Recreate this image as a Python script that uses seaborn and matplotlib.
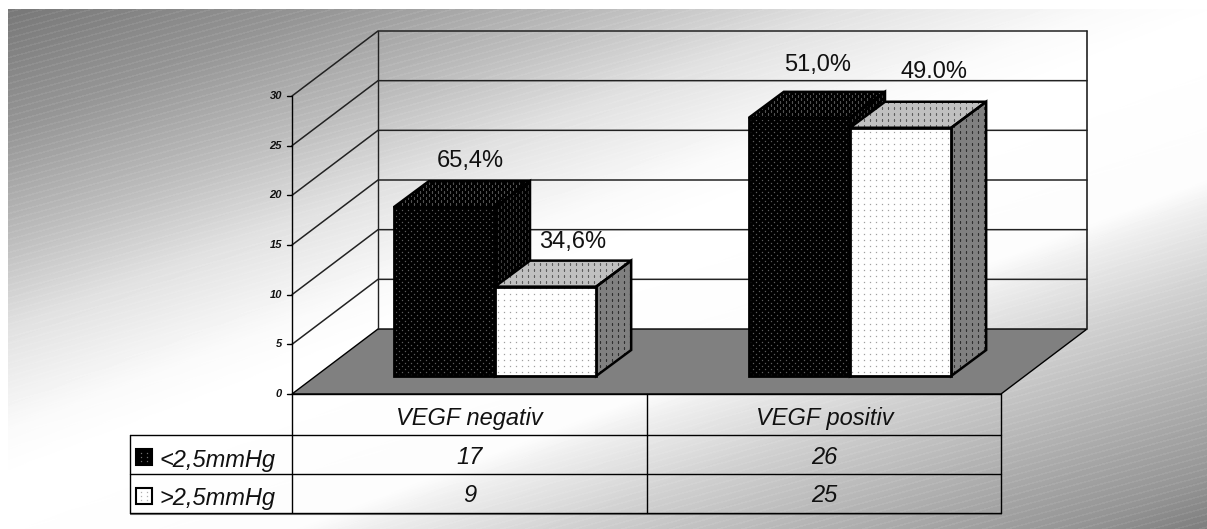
import numpy as np
import pandas as pd
import matplotlib
matplotlib.use("Agg")
import matplotlib.pyplot as plt
from matplotlib.patches import Polygon, Rectangle
import seaborn as sns

groups = ["VEGF negativ", "VEGF positiv"]
series = ["<2,5mmHg", ">2,5mmHg"]
low_values = [17, 26]
high_values = [9, 25]
low_pct = ["65,4%", "51,0%"]
high_pct = ["34,6%", "49.0%"]
y_ticks = [0, 5, 10, 15, 20, 25, 30]

W, H = 1207, 529
BASE_X = 495
BASE_Y = 376
PX_PER_CAT = 355
PX_PER_VAL = 9.93
DEPTH_X = 35 / PX_PER_CAT
DEPTH_Y = 26 / PX_PER_VAL

sns.set_style("white")
plt.rcParams['font.family'] = ['Liberation Sans', 'DejaVu Sans']

fig = plt.figure(figsize=(W / 100, H / 100), dpi=100, facecolor='white')

# pixel axes for the backdrop, walls and table
bg = fig.add_axes([0, 0, 1, 1])
bg.set_xlim(0, W)
bg.set_ylim(H, 0)
bg.axis('off')

yy, xx = np.mgrid[9:H, 8:W]
t = 0.358 * xx + 0.934 * yy
gray = np.interp(t, [11, 126, 224, 310, 404, 451, 600, 624, 700, 750, 808, 879, 920],
                 [120, 150, 187, 225, 250, 255, 252, 238, 207, 190, 170, 148, 128])
stripes = ((yy + 0.27 * xx) % 6.5) < 1.6
gray = gray + stripes * (255 - gray) * 0.07
bg.imshow(gray, cmap='gray', vmin=0, vmax=255, extent=(8, W, H, 9), aspect='auto',
          interpolation='nearest', zorder=0)
bg.set_xlim(0, W)
bg.set_ylim(H, 0)


def wall_y(v):
    return 394 - 298 / 30 * v


# floor
bg.add_patch(Polygon([(292, 394), (378, 329), (1087, 329), (1001, 394)], facecolor='#808080',
                     edgecolor='black', lw=1, zorder=1))
# walls and gridlines
for v in y_ticks[1:]:
    py = wall_y(v)
    bg.plot([292, 378, 1087], [py, py - 65, py - 65], color='#222222', lw=1.1, zorder=2)

bg.plot([378, 378], [31, 329], color='#222222', lw=1, zorder=2)
bg.plot([1087, 1087], [31, 329], color='#222222', lw=1.2, zorder=2)
bg.plot([292, 292], [96, 513], color='black', lw=1, zorder=2)
for v in y_ticks:
    bg.plot([287, 292], [wall_y(v), wall_y(v)], color='black', lw=1, zorder=2)
    bg.text(282, wall_y(v), str(v), ha='right', va='center', fontsize=8,
            fontweight='bold', fontstyle='italic', color='#111111')

# table
for py, x0 in [(394, 292), (435, 130), (474, 130), (513, 130)]:
    bg.plot([x0, 1001], [py, py], color='black', lw=1, zorder=3)
bg.plot([130, 1001], [514, 514], color='#777777', lw=0.8, zorder=2)
for px, y0 in [(130, 435), (647, 394), (1001, 394)]:
    bg.plot([px, px], [y0, 513], color='black', lw=1, zorder=3)
text_kw = dict(ha='center', va='center', fontsize=17, fontstyle='italic', color='#111111')
for i, name in enumerate(groups):
    cx = 469.5 + i * 355
    bg.text(cx, 418, name, **text_kw)
    bg.text(cx, 457, str(low_values[i]), **text_kw)
    bg.text(cx, 496, str(high_values[i]), **text_kw)
for j, (name, fc, dc, py) in enumerate(zip(series, ['black', 'white'], ['#707070', '#b0b0b0'], [449, 488])):
    bg.add_patch(Rectangle((136, py), 16, 16, facecolor=fc, edgecolor='black', lw=1.5, zorder=3))
    gx, gy = np.meshgrid([141, 147], [py + 4, py + 8, py + 12])
    bg.plot(gx.ravel(), gy.ravel(), ls='', marker='s', ms=0.9, mew=0, color=dc, zorder=4)
    bg.text(159, py + 11, name, ha='left', va='center', fontsize=17, fontstyle='italic', color='#111111')

# data axes for the bars: 0 sits on the bar base line
ax = fig.add_axes([0, 0, 1, 1])
ax.patch.set_alpha(0)
df = pd.DataFrame({
    "group": groups * 2,
    "series": [series[0]] * 2 + [series[1]] * 2,
    "n": low_values + high_values,
})
sns.barplot(data=df, x="group", y="n", hue="series", hue_order=series, order=groups,
            palette=['black', 'white'], width=0.57, gap=0, saturation=1, legend=False, ax=ax)
ax.set_xlim(-BASE_X / PX_PER_CAT, (W - BASE_X) / PX_PER_CAT)
ax.set_ylim((BASE_Y - H) / PX_PER_VAL, BASE_Y / PX_PER_VAL)
ax.axis('off')


def dots(patch, pts, color, stagger, z):
    # fine dot screen of the old chart fill, clipped to one face
    pts = np.array(pts)
    px0 = BASE_X + pts[:, 0].min() * PX_PER_CAT
    px1 = BASE_X + pts[:, 0].max() * PX_PER_CAT
    py0 = BASE_Y - pts[:, 1].max() * PX_PER_VAL
    py1 = BASE_Y - pts[:, 1].min() * PX_PER_VAL
    row_step = 3 if stagger else 6
    xs, ys = [], []
    for r in np.arange(py0 // row_step, py1 // row_step + 1):
        shift = 3 * (r % 2) if stagger else 0
        cols = np.arange(px0 // 6 - 1, px1 // 6 + 2) * 6 + shift
        xs.extend((cols - BASE_X) / PX_PER_CAT)
        ys.extend([(BASE_Y - r * row_step) / PX_PER_VAL] * len(cols))
    line, = ax.plot(xs, ys, ls='', marker='s', ms=0.9, mew=0, color=color, zorder=z + 0.2)
    line.set_clip_path(patch)


def face(pts, fc, dot_color, stagger, z):
    p = Polygon(pts, facecolor=fc, edgecolor='none', zorder=z)
    ax.add_patch(p)
    dots(p, pts, dot_color, stagger, z)
    ax.add_patch(Polygon(pts, fill=False, edgecolor='black', lw=1.8, joinstyle='miter', zorder=z + 0.5))


styles = [
    dict(front='black', front_dots='#5c5c5c', top='black', top_dots='#505050', side='black', side_dots='#3c3c3c', stagger=True),
    dict(front='white', front_dots='#a0a0a0', top='#c0c0c0', top_dots='#606060', side='#808080', side_dots='#303030', stagger=False),
]
for k, cont in enumerate(ax.containers):
    st = styles[k]
    for bar in cont:
        x0, w, h = bar.get_x(), bar.get_width(), bar.get_height()
        x1 = x0 + w
        z = 3 + k * 3
        face([(x0, h), (x0 + DEPTH_X, h + DEPTH_Y), (x1 + DEPTH_X, h + DEPTH_Y), (x1, h)],
             st['top'], st['top_dots'], st['stagger'], z)
        face([(x1, 0), (x1 + DEPTH_X, DEPTH_Y), (x1 + DEPTH_X, h + DEPTH_Y), (x1, h)],
             st['side'], st['side_dots'], st['stagger'], z)
        bar.set_facecolor(st['front'])
        bar.set_edgecolor('none')
        bar.set_zorder(z + 1)
        dots(bar, [(x0, 0), (x1, h)], st['front_dots'], st['stagger'], z + 1)
        ax.add_patch(Rectangle((x0, 0), w, h, fill=False, edgecolor='black', lw=2, joinstyle='miter', zorder=z + 1.5))

# percent labels, nudged off the back top edge of each bar (pixels)
label_offsets = [[(26, 20), (18, 27)], [(27, 19), (33, 30)]]
for k, (cont, pcts) in enumerate(zip(ax.containers, [low_pct, high_pct])):
    for i, bar in enumerate(cont):
        dx, dy = label_offsets[k][i]
        ax.annotate(pcts[i], (bar.get_x() + bar.get_width() / 2, bar.get_height() + DEPTH_Y),
                    xytext=(dx * 0.72, dy * 0.72), textcoords='offset points', ha='center', va='center',
                    fontsize=17, color='#111111', zorder=12)

fig.savefig("out.png", dpi=100)
